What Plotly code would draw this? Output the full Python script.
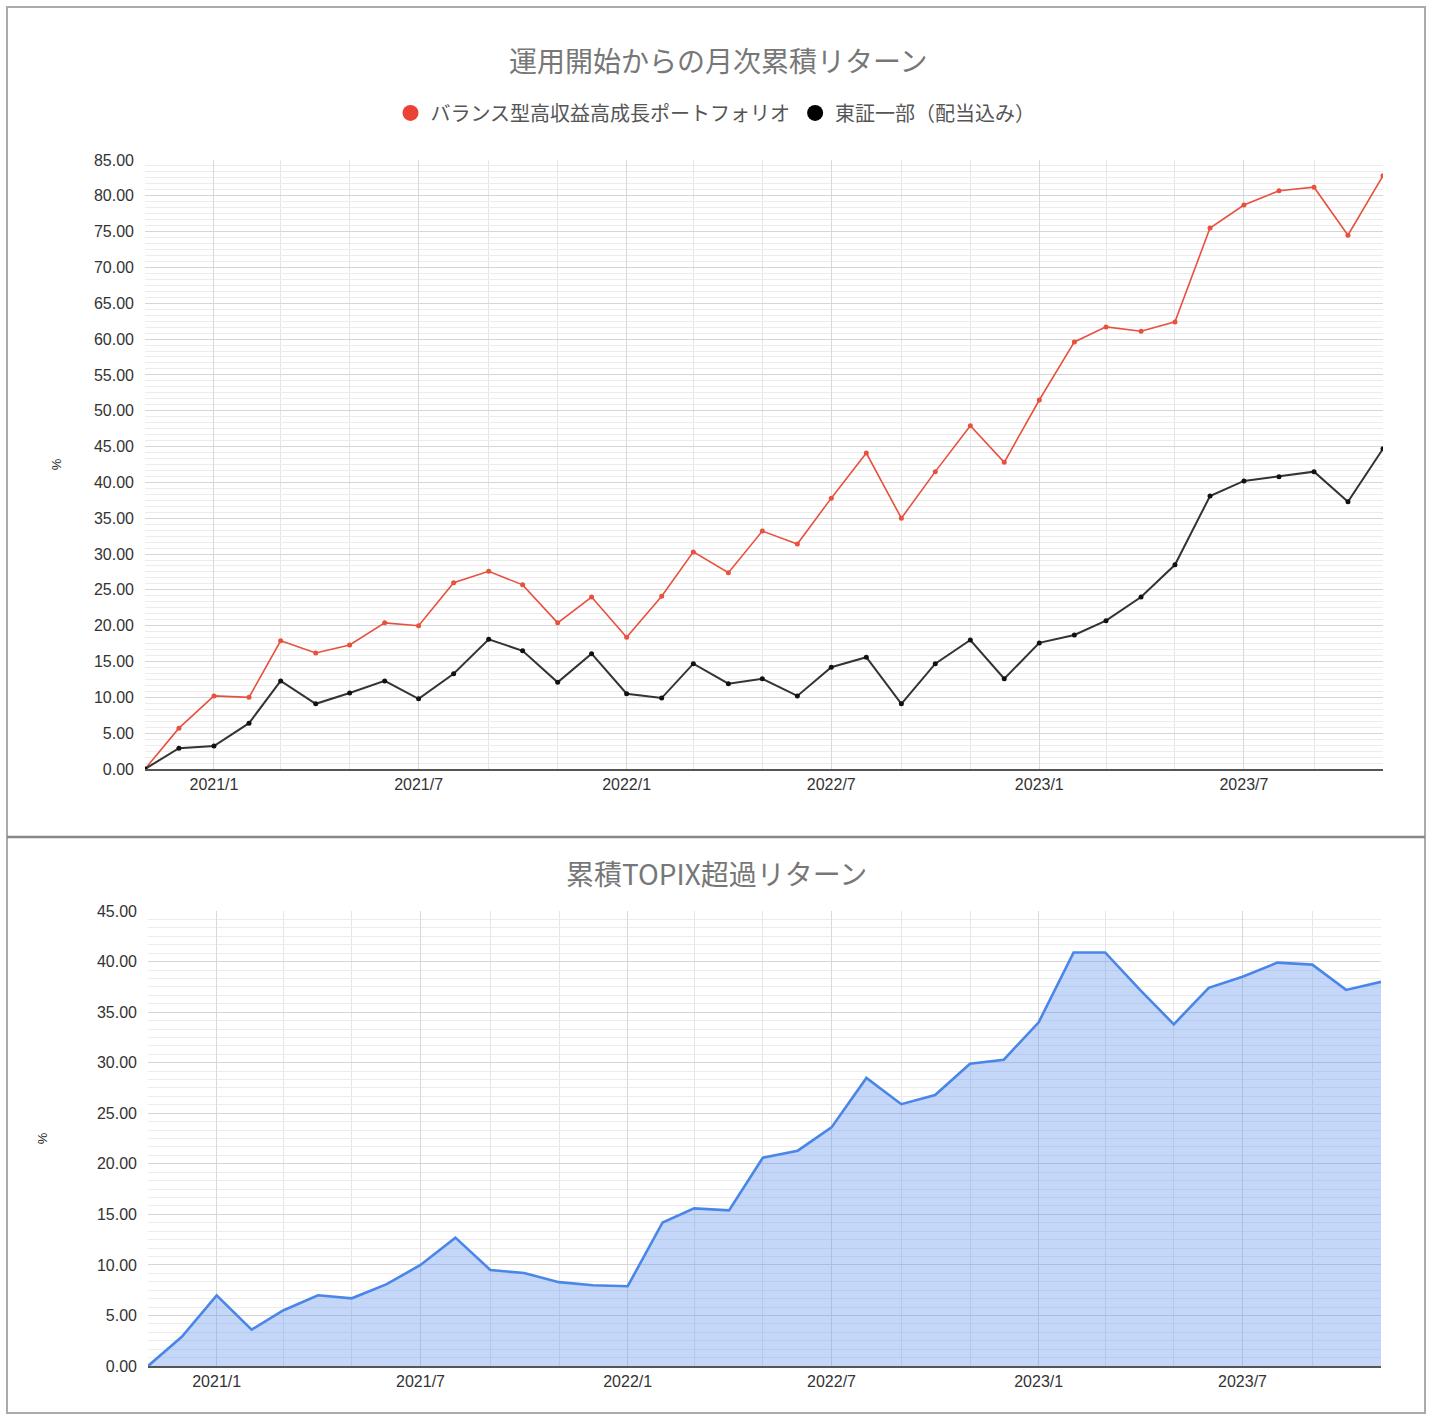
import plotly.graph_objects as go

months = ["2020-11-01", "2020-12-01", "2021-01-01", "2021-02-01", "2021-03-01", "2021-04-01",
          "2021-05-01", "2021-06-01", "2021-07-01", "2021-08-01", "2021-09-01", "2021-10-01",
          "2021-11-01", "2021-12-01", "2022-01-01", "2022-02-01", "2022-03-01", "2022-04-01",
          "2022-05-01", "2022-06-01", "2022-07-01", "2022-08-01", "2022-09-01", "2022-10-01",
          "2022-11-01", "2022-12-01", "2023-01-01", "2023-02-01", "2023-03-01", "2023-04-01",
          "2023-05-01", "2023-06-01", "2023-07-01", "2023-08-01", "2023-09-01", "2023-10-01",
          "2023-11-01"]

portfolio = [0.0, 5.7, 10.2, 10.0, 17.9, 16.2, 17.3, 20.4, 20.0, 26.0, 27.6, 25.7,
             20.4, 24.0, 18.4, 24.1, 30.3, 27.4, 33.2, 31.4, 37.8, 44.1, 35.0, 41.5,
             47.9, 42.8, 51.5, 59.6, 61.7, 61.1, 62.4, 75.5, 78.7, 80.7, 81.2, 74.5, 82.8]

topix = [0.0, 2.9, 3.2, 6.4, 12.3, 9.1, 10.6, 12.3, 9.8, 13.3, 18.1, 16.5,
         12.1, 16.1, 10.5, 9.9, 14.7, 11.9, 12.6, 10.2, 14.2, 15.6, 9.1, 14.7,
         18.0, 12.6, 17.6, 18.7, 20.7, 24.0, 28.5, 38.1, 40.2, 40.8, 41.5, 37.3, 44.7]

excess = [0.0, 2.9, 7.0, 3.6, 5.5, 7.0, 6.7, 8.1, 10.0, 12.7, 9.5, 9.2,
          8.3, 8.0, 7.9, 14.2, 15.6, 15.4, 20.6, 21.3, 23.6, 28.5, 25.9, 26.8,
          29.9, 30.3, 34.0, 40.9, 40.9, 37.2, 33.8, 37.4, 38.5, 39.9, 39.7, 37.2, 38.0]

series_names = ["バランス型高収益高成長ポートフォリオ", "東証一部（配当込み）"]
title_top = "運用開始からの月次累積リターン"
title_bottom = "累積TOPIX超過リターン"
y_title = "%"

W, H = 1431, 1420
RED = "#e8503f"
BLACK = "#333333"
BLUE = "#4a86e8"
CJK = "Noto Sans CJK JP"
NUM = "Liberation Sans, Arial, sans-serif"

# measured page placement of the figure (vertical offset / scale) in the viewer
Y_OFF, Y_SCALE = 8.08, 0.98791


def px(x):
    return x / W


def py(y):
    return 1 - ((y - Y_OFF) / Y_SCALE) / H


fig = go.Figure()

fig.add_trace(go.Scatter(x=months, y=portfolio, mode="lines+markers", name=series_names[0],
                         line=dict(color=RED, width=1.6), marker=dict(color=RED, size=5),
                         showlegend=False, xaxis="x", yaxis="y"))
fig.add_trace(go.Scatter(x=months, y=topix, mode="lines+markers", name=series_names[1],
                         line=dict(color=BLACK, width=2), marker=dict(color="#111111", size=5),
                         showlegend=False, xaxis="x", yaxis="y"))
# legend entries (circle only)
fig.add_trace(go.Scatter(x=[None], y=[None], mode="markers", name=series_names[0],
                         marker=dict(color="#ea4335", size=16), xaxis="x", yaxis="y"))
fig.add_trace(go.Scatter(x=[None], y=[None], mode="markers", name=series_names[1],
                         marker=dict(color="#000000", size=16), xaxis="x", yaxis="y"))

fig.add_trace(go.Scatter(x=months, y=excess, mode="lines", fill="tozeroy",
                         line=dict(color=BLUE, width=2.6),
                         fillcolor="rgba(100,150,240,0.38)", showlegend=False,
                         xaxis="x2", yaxis="y2"))

common_x = dict(
    type="date",
    range=["2020-11-01", "2023-11-01"],
    tick0="2021-01-01", dtick="M6", tickformat="%Y/%-m",
    showgrid=True, gridcolor="#d9d9d9", gridwidth=1.2,
    minor=dict(dtick="M2", tick0="2020-11-01", showgrid=True, gridcolor="#e6e6e6", gridwidth=1),
    showline=True, linecolor="#555555", linewidth=1.5,
    ticks="", tickfont=dict(family=NUM, size=16, color="#333333"),
    zeroline=False, fixedrange=True,
)
common_y = dict(
    tickformat=".2f", dtick=5,
    showgrid=True, gridcolor="#d6d6d6", gridwidth=1.4,
    minor=dict(dtick=5 / 6, showgrid=True, gridcolor="#ececec", gridwidth=1),
    zeroline=False, showline=False, ticks="", ticklabelstandoff=10,
    tickfont=dict(family=NUM, size=16, color="#333333"),
)

fig.update_layout(
    width=W, height=H,
    margin=dict(l=0, r=0, t=0, b=0),
    paper_bgcolor="white", plot_bgcolor="white",
    xaxis=dict(domain=[px(145), px(1383)], anchor="y", **common_x),
    yaxis=dict(domain=[py(769), py(160)], anchor="x", range=[0, 85],
               title=dict(text=y_title, font=dict(family=NUM, size=13, color="#222222"), standoff=29),
               **common_y),
    xaxis2=dict(domain=[px(148), px(1381)], anchor="y2", **common_x),
    yaxis2=dict(domain=[py(1366), py(911)], anchor="x2", range=[0, 45],
                title=dict(text=y_title, font=dict(family=NUM, size=13, color="#222222"), standoff=46),
                **common_y),
    legend=dict(orientation="h", x=0.5, xanchor="center", y=py(113), yanchor="middle",
                font=dict(family=CJK, size=20, color="#555555"), itemwidth=30,
                bgcolor="rgba(0,0,0,0)"),
    annotations=[
        dict(text=title_top, x=px(718), y=py(60), xref="paper", yref="paper",
             showarrow=False, font=dict(family=CJK, size=28, color="#777777"),
             xanchor="center", yanchor="middle"),
        dict(text=title_bottom, x=px(716), y=py(873), xref="paper", yref="paper",
             showarrow=False, font=dict(family=CJK, size=28, color="#777777"),
             xanchor="center", yanchor="middle"),
    ],
    shapes=[
        dict(type="rect", xref="paper", yref="paper", x0=px(7), x1=px(1425), y0=py(837), y1=py(7),
             line=dict(color="#aaaaaa", width=2), layer="above"),
        dict(type="rect", xref="paper", yref="paper", x0=px(7), x1=px(1425), y0=py(1413), y1=py(837),
             line=dict(color="#aaaaaa", width=2), layer="above"),
        dict(type="line", xref="paper", yref="paper", x0=px(7), x1=px(1425), y0=py(837), y1=py(837),
             line=dict(color="#888888", width=2.5), layer="above"),
    ],
)

fig.write_html(
    "out.html",
    config={"displayModeBar": False},
    post_script=("document.documentElement.style.margin='0';"
                 "document.documentElement.style.padding='0';"
                 "document.body.style.margin='0';document.body.style.padding='0';"
                 "document.body.style.overflow='hidden';"),
)
